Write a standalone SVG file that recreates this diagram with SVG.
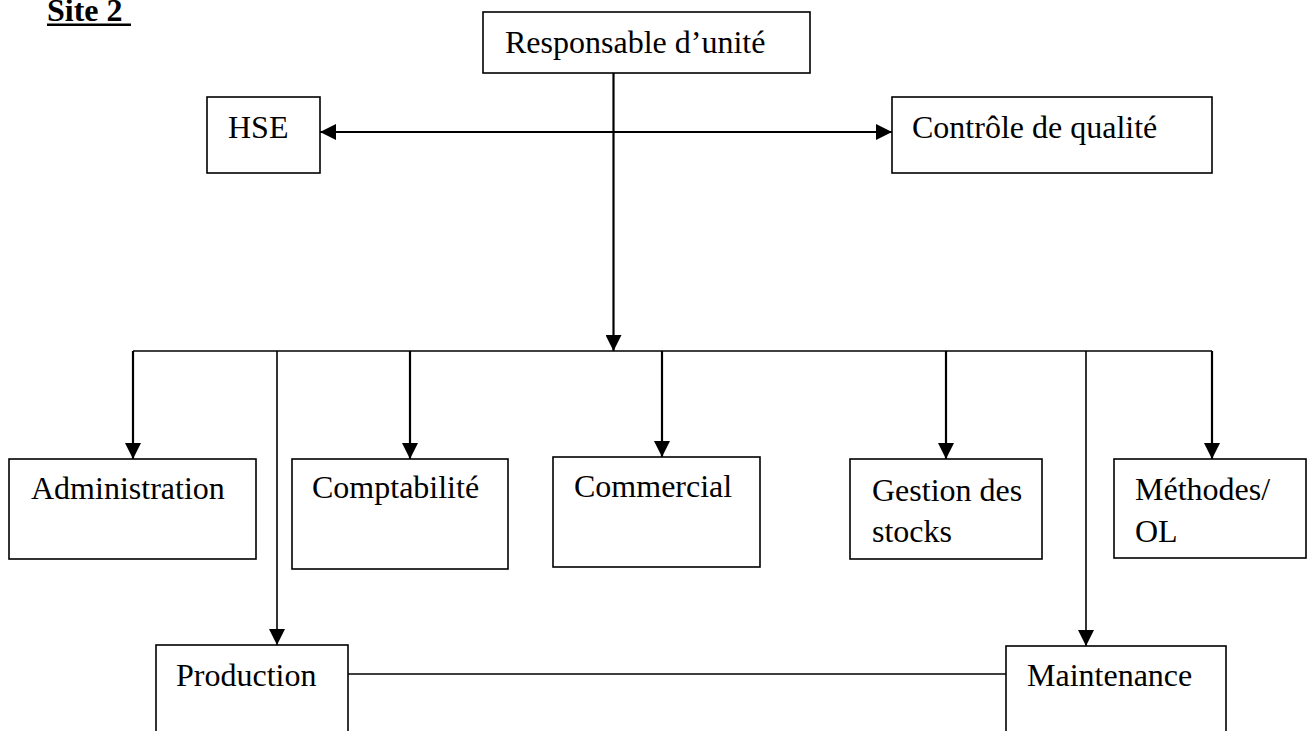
<svg xmlns="http://www.w3.org/2000/svg" width="1308" height="731" viewBox="0 0 1308 731">
<style>
  .box { fill: #fff; stroke: #000; stroke-width: 1.6; }
  .lbl { font-family: "Liberation Serif", "Times New Roman", serif; font-size: 32px; fill: #000; }
  .ln { fill: none; stroke: #000; stroke-width: 1.6; }
  .ar { fill: none; stroke: #000; stroke-width: 2.2; }
</style>
<defs>
  <marker id="ah" viewBox="0 0 16 16" refX="16" refY="8" markerWidth="16" markerHeight="16" markerUnits="userSpaceOnUse" orient="auto-start-reverse">
    <path d="M0,0 L16,8 L0,16 Z" fill="#000"/>
  </marker>
</defs>
<rect width="1308" height="731" fill="#fff"/>

<g id="title">
  <text x="47" y="21" class="lbl" font-weight="bold">Site 2</text>
  <rect x="47" y="23.5" width="84" height="2.5" fill="#000"/>
</g>

<g id="connectors">
  <line class="ar" x1="613.5" y1="73" x2="613.5" y2="351" marker-end="url(#ah)"/>
  <line class="ar" x1="320" y1="132" x2="892" y2="132" marker-start="url(#ah)" marker-end="url(#ah)"/>
  <line class="ln" x1="133" y1="351" x2="1212" y2="351"/>
  <line class="ar" x1="133" y1="351" x2="133" y2="459" marker-end="url(#ah)"/>
  <line class="ar" x1="410" y1="351" x2="410" y2="459" marker-end="url(#ah)"/>
  <line class="ar" x1="662" y1="351" x2="662" y2="457" marker-end="url(#ah)"/>
  <line class="ar" x1="946" y1="351" x2="946" y2="459" marker-end="url(#ah)"/>
  <line class="ar" x1="1212" y1="351" x2="1212" y2="459" marker-end="url(#ah)"/>
  <line class="ln" x1="277" y1="351" x2="277" y2="645" marker-end="url(#ah)"/>
  <line class="ln" x1="1086" y1="351" x2="1086" y2="646" marker-end="url(#ah)"/>
  <line class="ln" x1="348" y1="674" x2="1006" y2="674"/>
</g>

<g id="node-responsable">
  <rect class="box" x="483" y="12" width="327" height="61"/>
  <text class="lbl" x="505" y="53">Responsable d’unité</text>
</g>
<g id="node-hse">
  <rect class="box" x="207" y="97" width="113" height="76"/>
  <text class="lbl" x="228" y="138">HSE</text>
</g>
<g id="node-controle">
  <rect class="box" x="892" y="97" width="320" height="76"/>
  <text class="lbl" x="912" y="138">Contrôle de qualité</text>
</g>
<g id="node-administration">
  <rect class="box" x="9" y="459" width="247" height="100"/>
  <text class="lbl" x="31" y="499">Administration</text>
</g>
<g id="node-comptabilite">
  <rect class="box" x="292" y="459" width="216" height="110"/>
  <text class="lbl" x="312" y="498">Comptabilité</text>
</g>
<g id="node-commercial">
  <rect class="box" x="553" y="457" width="207" height="110"/>
  <text class="lbl" x="574" y="497">Commercial</text>
</g>
<g id="node-gestion">
  <rect class="box" x="850" y="459" width="192" height="100"/>
  <text class="lbl" x="872" y="501">Gestion des</text>
  <text class="lbl" x="872" y="542">stocks</text>
</g>
<g id="node-methodes">
  <rect class="box" x="1114" y="459" width="192" height="99"/>
  <text class="lbl" x="1135" y="500">Méthodes/</text>
  <text class="lbl" x="1135" y="542">OL</text>
</g>
<g id="node-production">
  <rect class="box" x="156" y="645" width="192" height="100"/>
  <text class="lbl" x="176" y="686">Production</text>
</g>
<g id="node-maintenance">
  <rect class="box" x="1006" y="646" width="220" height="100"/>
  <text class="lbl" x="1027" y="686">Maintenance</text>
</g>
</svg>
